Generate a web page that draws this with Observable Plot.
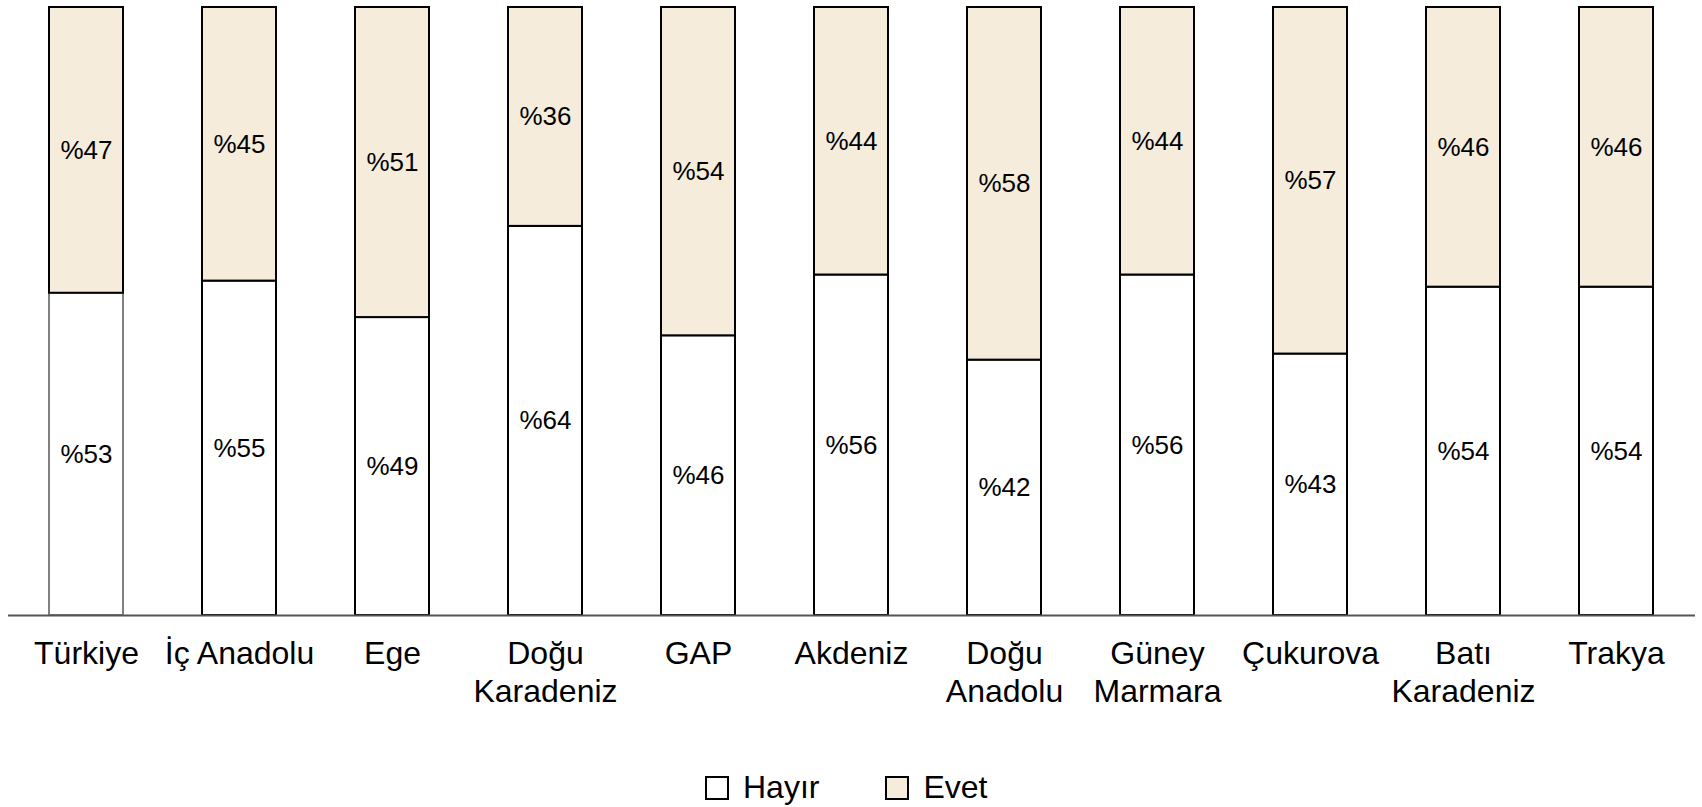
<!DOCTYPE html>
<html>
<head>
<meta charset="utf-8">
<script src="https://cdn.jsdelivr.net/npm/d3@7"></script>
<script src="https://cdn.jsdelivr.net/npm/@observablehq/plot@0.6"></script>
<style>
  html, body { margin: 0; padding: 0; background: #fff; }
  body { width: 1702px; height: 807px; position: relative; overflow: hidden; font-family: "Liberation Sans", Arial, sans-serif; }
  #chart { position: absolute; left: 0; top: 0; }
  #legend { position: absolute; top: 769px; left: 705px; display: flex; align-items: center; font-size: 32px; color: #000; }
  .item { display: flex; align-items: center; margin: 0 66px 0 0; }
  .item:last-child { margin-right: 0; }
  .sw { width: 20px; height: 20px; border: 2px solid #000; margin-right: 14px; box-sizing: content-box; }
</style>
</head>
<body>
<div id="chart"></div>
<div id="legend"></div>
<script>
const regions = ["Türkiye","İç Anadolu","Ege","Doğu Karadeniz","GAP","Akdeniz","Doğu Anadolu","Güney Marmara","Çukurova","Batı Karadeniz","Trakya"];
const tickLabels = ["Türkiye","İç Anadolu","Ege","Doğu\nKaradeniz","GAP","Akdeniz","Doğu\nAnadolu","Güney\nMarmara","Çukurova","Batı\nKaradeniz","Trakya"];
const series = ["Hayır","Evet"];
const hayir = [53,55,49,64,46,56,42,56,43,54,54];
const evet  = [47,45,51,36,54,44,58,44,57,46,46];
const seriesColors = {"Hayır": "#ffffff", "Evet": "#f5ecdc"};

const data = [];
series.forEach((s) => {
  const vals = s === "Hayır" ? hayir : evet;
  regions.forEach((r, i) => data.push({region: r, series: s, value: vals[i]}));
});
const labelOf = new Map(regions.map((r, i) => [r, tickLabels[i]]));

const strokeOf = d => (d.region === "Türkiye" && d.series === "Hayır") ? "#808080" : "#000000";

const chart = Plot.plot({
  width: 1702,
  height: 730,
  marginTop: 7,
  marginBottom: 115,
  marginLeft: 8,
  marginRight: 7,
  style: {fontFamily: "Liberation Sans, Arial, sans-serif", background: "transparent"},
  x: {domain: regions, paddingInner: 0.515, paddingOuter: 0.25, label: null},
  y: {domain: [0, 100], axis: null},
  color: {type: "identity"},
  marks: [
    Plot.barY(data, Plot.stackY({
      x: "region", y: "value", z: "series",
      fill: d => seriesColors[d.series],
      stroke: strokeOf,
      strokeWidth: 2
    })),
    Plot.text(data, Plot.stackY({
      x: "region", y: "value", z: "series",
      text: d => "%" + d.value,
      fontSize: 26,
      fill: "#000"
    })),
    Plot.ruleY([0], {stroke: "#555", strokeWidth: 2}),
    Plot.axisX({
      tickSize: 0,
      tickPadding: 21,
      fontSize: 32,
      lineHeight: 1.19,
      lineAnchor: "top",
      tickFormat: r => labelOf.get(r),
      label: null,
      fill: "#000"
    })
  ]
});
document.getElementById("chart").appendChild(chart);

const legend = document.getElementById("legend");
series.forEach(s => {
  const item = document.createElement("div");
  item.className = "item";
  const sw = document.createElement("div");
  sw.className = "sw";
  sw.style.background = seriesColors[s];
  const t = document.createElement("span");
  t.textContent = s;
  item.appendChild(sw);
  item.appendChild(t);
  legend.appendChild(item);
});
</script>
</body>
</html>
